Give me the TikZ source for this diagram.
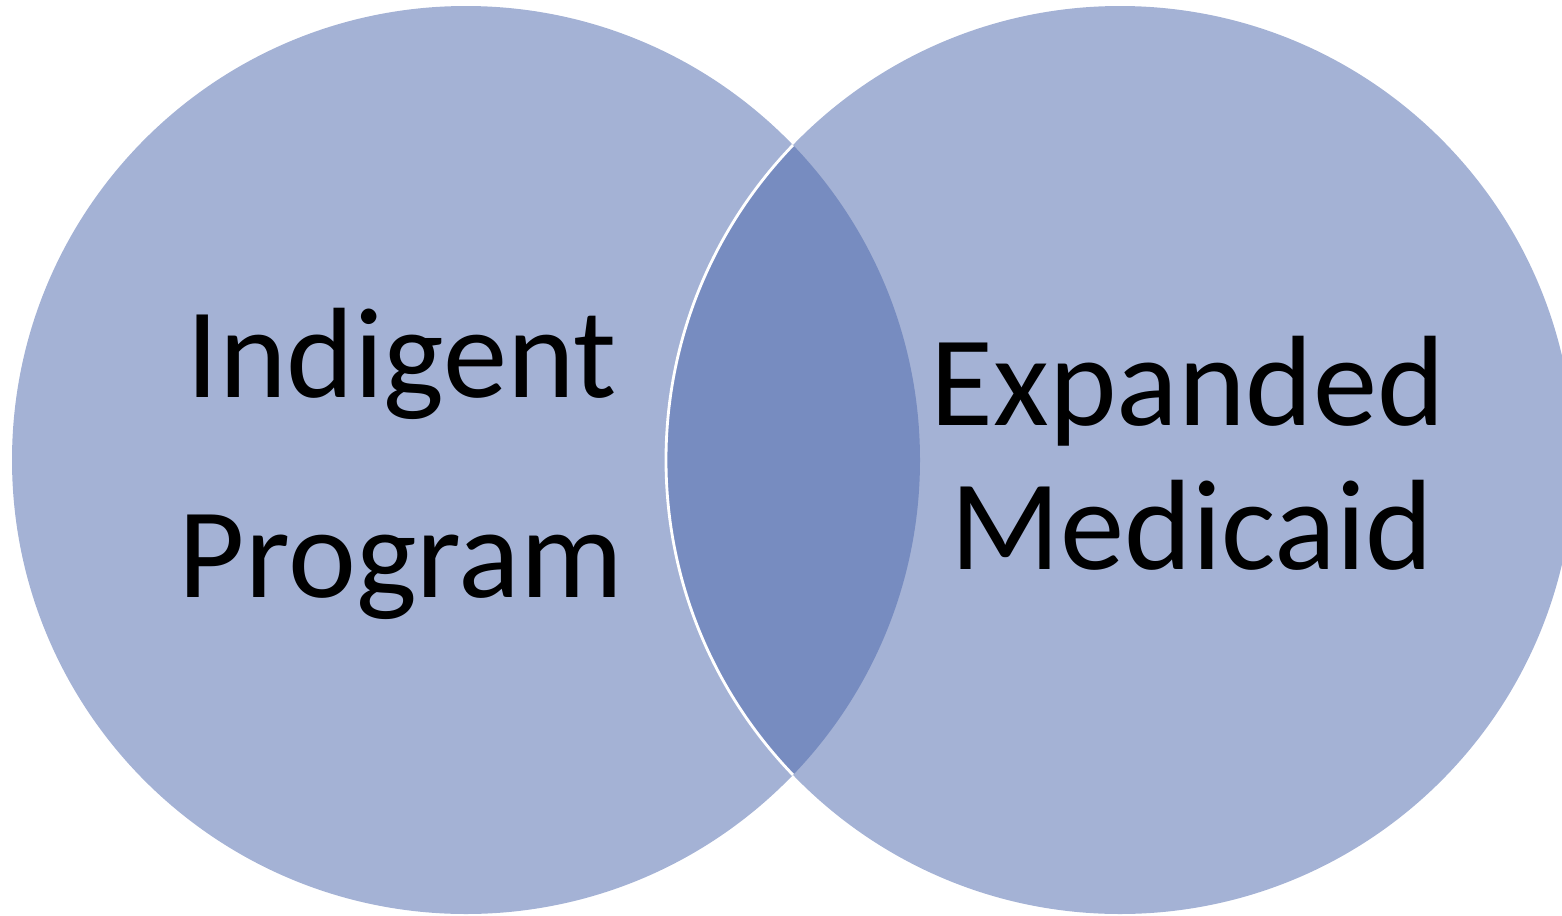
\documentclass[tikz,border=0pt]{standalone}
\usepackage{fontspec}
\setmainfont{Carlito}
\usetikzlibrary{positioning}
\definecolor{vennlight}{RGB}{164,178,213}
\definecolor{venndark}{RGB}{119,140,192}
\tikzset{
  setdisc/.style={fill=vennlight},
  lensfill/.style={fill=venndark},
  rim/.style={draw=white, line width=0.8pt},
  setlbl/.style={anchor=base, inner sep=0pt, text=black,
                 font=\fontsize{36.6}{44}\selectfont},
}

\begin{document}
\begin{tikzpicture}
    \useasboundingbox (0,0) rectangle (15.62,-9.15);
    \clip (0,0) rectangle (15.62,-9.15);
    % the two sets
    \fill[setdisc] (4.66,-4.60) circle (4.54);
    \fill[setdisc] (11.20,-4.60) circle (4.54);
    % overlap, with the white edge of the right set
    \begin{scope}
      \clip (4.66,-4.60) circle (4.54);
      \fill[lensfill] (11.20,-4.60) circle (4.54);
      \draw[rim] (11.20,-4.60) circle (4.54);
    \end{scope}
    % labels
    \node[setlbl] (indigent) at (4.02,-3.97) {Indigent};
    \node[setlbl] (program) at (4.01,-5.97) {Program};
    \node[setlbl] (expanded) at (11.88,-4.25) {Expanded};
    \node[setlbl] (medicaid) at (11.92,-5.69) {Medicaid};
\end{tikzpicture}
\end{document}
